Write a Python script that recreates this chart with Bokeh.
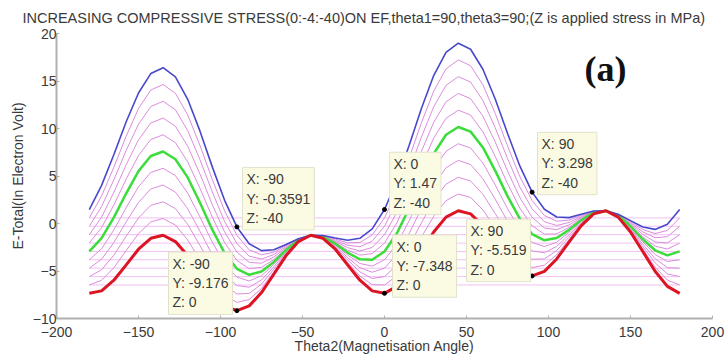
from bokeh.plotting import figure
from bokeh.models import Label, Range1d, FixedTicker
from bokeh.embed import file_html
from bokeh.resources import INLINE

# ---------------- data ----------------
theta = [-180.0, -172.5, -165.0, -157.5, -150.0, -142.5, -135.0, -127.5, -120.0, -112.5, -105.0, -97.5,
         -90.0, -82.5, -75.0, -67.5, -60.0, -52.5, -45.0, -37.5, -30.0, -22.5, -15.0, -7.5,
         0.0, 7.5, 15.0, 22.5, 30.0, 37.5, 45.0, 52.5, 60.0, 67.5, 75.0, 82.5,
         90.0, 97.5, 105.0, 112.5, 120.0, 127.5, 135.0, 142.5, 150.0, 157.5, 165.0, 172.5, 180.0]

stress = [0, -4, -8, -12, -16, -20, -24, -28, -32, -36, -40]

e_z0 = [-7.35, -7.09, -5.97, -4.35, -2.71, -1.56, -1.24, -1.90, -3.38, -5.34, -7.27, -8.67,
        -9.18, -8.67, -7.27, -5.34, -3.38, -1.90, -1.24, -1.56, -2.71, -4.35, -5.97, -7.09,
        -7.35, -6.62, -5.03, -2.95, -0.89, 0.67, 1.34, 1.01, -0.22, -1.96, -3.73, -5.04,
        -5.52, -5.04, -3.73, -1.96, -0.22, 1.01, 1.34, 0.67, -0.89, -2.95, -5.03, -6.62, -7.35]
e_z4 = [-6.47, -5.98, -4.65, -2.84, -1.07, 0.17, 0.52, -0.16, -1.74, -3.83, -5.94, -7.56,
        -8.30, -8.01, -6.83, -5.08, -3.27, -1.87, -1.24, -1.53, -2.60, -4.09, -5.53, -6.44,
        -6.47, -5.51, -3.70, -1.44, 0.76, 2.40, 3.11, 2.74, 1.43, -0.45, -2.41, -3.93,
        -4.64, -4.39, -3.29, -1.70, -0.10, 1.04, 1.34, 0.70, -0.77, -2.69, -4.59, -5.96, -6.47]
e_z8 = [-5.59, -4.87, -3.33, -1.34, 0.58, 1.91, 2.28, 1.57, -0.09, -2.33, -4.62, -6.45,
        -7.42, -7.36, -6.38, -4.82, -3.15, -1.84, -1.24, -1.50, -2.48, -3.83, -5.09, -5.79,
        -5.59, -4.39, -2.38, 0.06, 2.41, 4.14, 4.87, 4.47, 3.08, 1.05, -1.09, -2.82,
        -3.76, -3.73, -2.85, -1.44, 0.02, 1.07, 1.34, 0.73, -0.65, -2.43, -4.14, -5.31, -5.59]
e_z12 = [-4.70, -3.76, -2.00, 0.17, 2.22, 3.64, 4.05, 3.30, 1.55, -0.82, -3.30, -5.34,
         -6.53, -6.71, -5.94, -4.56, -3.03, -1.81, -1.24, -1.47, -2.36, -3.58, -4.65, -5.13,
         -4.70, -3.28, -1.06, 1.57, 4.05, 5.87, 6.64, 6.21, 4.72, 2.56, 0.24, -1.71,
         -2.88, -3.08, -2.41, -1.19, 0.14, 1.10, 1.34, 0.76, -0.53, -2.18, -3.70, -4.65, -4.70]
e_z16 = [-3.82, -2.65, -0.68, 1.67, 3.87, 5.38, 5.81, 5.04, 3.20, 0.68, -1.97, -4.23,
         -5.65, -6.05, -5.50, -4.31, -2.91, -1.78, -1.24, -1.44, -2.24, -3.32, -4.21, -4.48,
         -3.82, -2.17, 0.27, 3.07, 5.70, 7.60, 8.40, 7.94, 6.37, 4.06, 1.56, -0.60,
         -1.99, -2.43, -1.97, -0.93, 0.26, 1.13, 1.34, 0.79, -0.41, -1.92, -3.26, -4.00, -3.82]
e_z20 = [-2.94, -1.54, 0.64, 3.18, 5.51, 7.11, 7.58, 6.77, 4.85, 2.19, -0.65, -3.12,
         -4.77, -5.40, -5.06, -4.05, -2.79, -1.75, -1.24, -1.41, -2.12, -3.06, -3.77, -3.82,
         -2.94, -1.06, 1.59, 4.58, 7.34, 9.34, 10.16, 9.67, 8.01, 5.57, 2.88, 0.51,
         -1.11, -1.77, -1.53, -0.67, 0.37, 1.16, 1.34, 0.82, -0.29, -1.66, -2.82, -3.35, -2.94]
e_z24 = [-2.06, -0.43, 1.96, 4.68, 7.16, 8.84, 9.34, 8.51, 6.49, 3.69, 0.67, -2.01,
         -3.89, -4.75, -4.62, -3.79, -2.67, -1.72, -1.24, -1.38, -2.01, -2.80, -3.33, -3.17,
         -2.06, 0.05, 2.91, 6.08, 8.99, 11.07, 11.93, 11.41, 9.66, 7.07, 4.20, 1.62,
         -0.23, -1.12, -1.09, -0.41, 0.49, 1.19, 1.34, 0.85, -0.18, -1.40, -2.38, -2.69, -2.06]
e_z28 = [-1.18, 0.68, 3.29, 6.19, 8.81, 10.58, 11.10, 10.24, 8.14, 5.20, 1.99, -0.90,
         -3.01, -4.09, -4.18, -3.53, -2.56, -1.69, -1.24, -1.35, -1.89, -2.54, -2.89, -2.52,
         -1.18, 1.16, 4.23, 7.59, 10.64, 12.81, 13.69, 13.14, 11.30, 8.58, 5.53, 2.73,
         0.65, -0.47, -0.65, -0.15, 0.61, 1.22, 1.34, 0.88, -0.06, -1.14, -1.94, -2.04, -1.18]
e_z32 = [-0.29, 1.79, 4.61, 7.70, 10.45, 12.31, 12.87, 11.97, 9.78, 6.71, 3.32, 0.21,
         -2.12, -3.44, -3.74, -3.27, -2.44, -1.66, -1.24, -1.32, -1.77, -2.28, -2.45, -1.86,
         -0.29, 2.27, 5.56, 9.10, 12.28, 14.54, 15.46, 14.88, 12.95, 10.09, 6.85, 3.84,
         1.54, 0.19, -0.21, 0.11, 0.73, 1.25, 1.34, 0.91, 0.06, -0.88, -1.50, -1.39, -0.29]
e_z36 = [0.59, 2.90, 5.93, 9.20, 12.10, 14.05, 14.63, 13.71, 11.43, 8.21, 4.64, 1.33,
         -1.24, -2.78, -3.30, -3.02, -2.32, -1.63, -1.24, -1.29, -1.65, -2.03, -2.00, -1.21,
         0.59, 3.38, 6.88, 10.60, 13.93, 16.27, 17.22, 16.61, 14.60, 11.59, 8.17, 4.95,
         2.42, 0.84, 0.24, 0.36, 0.85, 1.28, 1.34, 0.94, 0.18, -0.63, -1.06, -0.73, 0.59]
e_z40 = [1.47, 4.01, 7.26, 10.71, 13.74, 15.78, 16.40, 15.44, 13.07, 9.72, 5.96, 2.44,
         -0.36, -2.13, -2.86, -2.76, -2.20, -1.60, -1.24, -1.26, -1.53, -1.77, -1.56, -0.56,
         1.47, 4.49, 8.20, 12.11, 15.57, 18.01, 18.98, 18.34, 16.24, 13.10, 9.50, 6.06,
         3.30, 1.50, 0.68, 0.62, 0.97, 1.31, 1.34, 0.97, 0.30, -0.37, -0.62, -0.08, 1.47]

curves = [e_z0, e_z4, e_z8, e_z12, e_z16, e_z20, e_z24, e_z28, e_z32, e_z36, e_z40]

# data tips shown on the chart
tip_x = [-90, -90, 0, 0, 90, 90]
tip_y = [-0.3591, -9.176, 1.47, -7.348, -5.519, 3.298]
tip_z = [-40, 0, -40, 0, 0, -40]

x_ticks = [-200, -150, -100, -50, 0, 50, 100, 150, 200]
y_ticks = [-10, -5, 0, 5, 10, 15, 20]

title_text = ("INCREASING COMPRESSIVE STRESS(0:-4:-40)ON EF,theta1=90,theta3=90;"
              "(Z is applied stress in MPa)")
x_label = "Theta2(Magnetisation Angle)"
y_label = "E-Total(In Electron Volt)"
panel_tag = "(a)"

# ---------------- layout / styles ----------------
tip_box_pos = [(-86.6, 5.9), (-131.7, -3.0), (3.0, 7.5), (4.9, -1.2), (50.0, 0.45), (93.3, 9.6)]
FONT = "Liberation Sans"
TXT = "#3a3a3a"
AX = "#b0b0b0"

p = figure(width=728, height=360, output_backend="svg", toolbar_location=None,
           x_range=Range1d(-200, 200), y_range=Range1d(-10, 20),
           min_border_left=56, min_border_right=16, min_border_top=33, min_border_bottom=42)
p.outline_line_color = None
p.grid.visible = False
p.background_fill_color = "white"
p.border_fill_color = "white"

p.title.text = title_text
p.title.text_font = FONT
p.title.text_font_size = "14.5px"
p.title.text_font_style = "normal"
p.title.text_color = TXT
p.title.align = "left"
p.title.offset = -34
p.title.standoff = 15

# wrap-around horizontal traces of the thin curves
for k in range(1, len(curves) - 1):
    lvl = curves[k][0]
    p.segment(x0=theta[0], y0=lvl, x1=theta[-1], y1=lvl,
              line_color="#f2c0f2", line_width=1)

# thin magenta curves
for k in range(1, len(curves) - 1):
    if k == 5:
        continue
    p.line(theta, curves[k], line_color="#dc8cdc", line_width=1)

p.line(theta, curves[5], line_color="#3cdc3c", line_width=2.5)
p.line(theta, curves[10], line_color="#4848cc", line_width=1.6)
p.line(theta, curves[0], line_color="#dc1424", line_width=3)

p.scatter(tip_x, tip_y, size=4, color="black")

for (bx, by), tx, ty, tz in zip(tip_box_pos, tip_x, tip_y, tip_z):
    p.add_layout(Label(x=bx, y=by, text=f"X: {tx:g}\nY: {ty:g}\nZ: {tz:g}",
                       text_font=FONT, text_font_size="14px", text_color=TXT,
                       text_align="left", text_baseline="top",
                       background_fill_color="#fbfbe4", background_fill_alpha=1.0,
                       border_line_color="#e2e2cc", border_line_width=1,
                       padding=4))

p.add_layout(Label(x=134.8, y=16.3, text=panel_tag, text_font="Liberation Serif",
                   text_font_style="bold", text_font_size="36px", text_color="#111111",
                   text_align="center", text_baseline="middle"))

for ax in (p.xaxis[0], p.yaxis[0]):
    ax.axis_line_color = AX
    ax.axis_line_width = 2
    ax.major_tick_line_color = AX
    ax.major_tick_in = 3
    ax.major_tick_out = 0
    ax.minor_tick_line_color = None
    ax.major_label_text_font = FONT
    ax.major_label_text_font_size = "14px"
    ax.major_label_text_color = TXT
    ax.axis_label_text_font = FONT
    ax.axis_label_text_font_size = "14px"
    ax.axis_label_text_font_style = "normal"
    ax.axis_label_text_color = TXT

p.xaxis.ticker = FixedTicker(ticks=x_ticks)
p.yaxis.ticker = FixedTicker(ticks=y_ticks)
p.xaxis.axis_label = x_label
p.yaxis.axis_label = y_label
p.xaxis.major_label_standoff = 8
p.xaxis.axis_label_standoff = -2
p.yaxis.major_label_standoff = 0
p.yaxis.axis_label_standoff = 4

open("out.html", "w").write(file_html(p, INLINE))
